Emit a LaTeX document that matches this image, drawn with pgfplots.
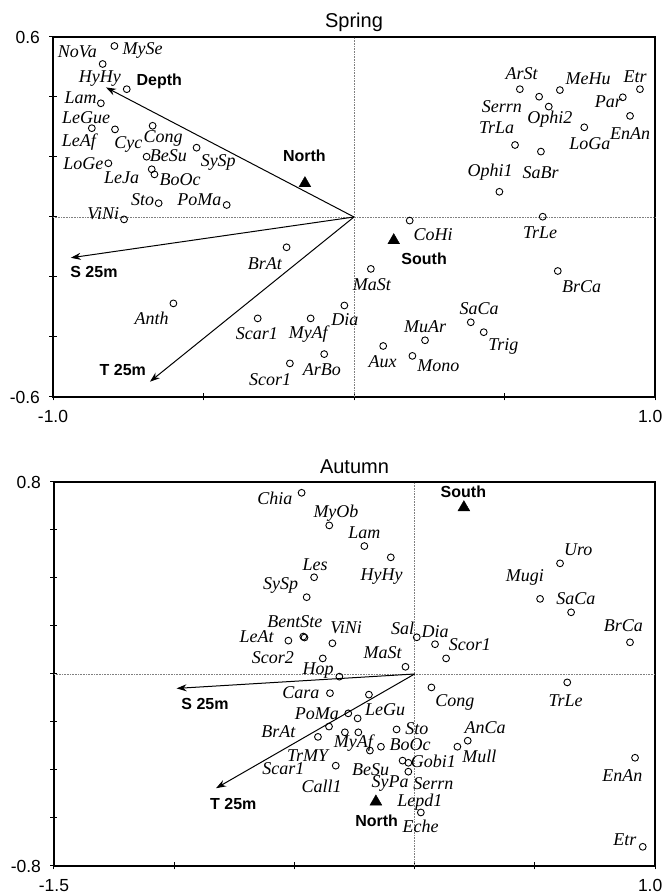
\documentclass[border=0pt]{standalone}
\usepackage{fontspec}
\setmainfont{Liberation Serif}
\setsansfont{Liberation Sans}
\usepackage{pgfplots}
\pgfplotsset{compat=1.18}
\usetikzlibrary{arrows.meta}

\tikzset{
  lab/.style={font=\itshape\fontsize{18}{18}\selectfont, inner sep=0pt, anchor=center},
  blab/.style={font=\sffamily\bfseries\fontsize{16}{16}\selectfont, inner sep=0pt, anchor=center},
}
\pgfplotsset{
  biplot/.style={
    scale only axis,
    anchor=south west,
    clip=false,
    tick pos=left,
    tick align=center,
    major tick length=7pt,
    axis line style={line width=1.1pt},
    every tick/.style={black, line width=1pt},
    ticklabel style={font=\sffamily\fontsize{17.5}{17.5}\selectfont},
    xticklabel style={yshift=-6pt},
    yticklabel style={xshift=-6pt},
    title style={font=\sffamily\fontsize{20}{20}\selectfont, at={(0.5,1)}, anchor=center, yshift=9pt},
  },
  zero/.style={gray, densely dotted, line width=0.6pt},
  vec/.style={black, line width=1pt, -{Stealth[length=10pt,width=7pt]}},
  pts/.style={only marks, mark=o, mark size=3.4pt, mark options={line width=0.9pt}, black},
  tri/.style={only marks, mark=triangle*, mark size=6.8pt, black},
}

\begin{document}
\begin{tikzpicture}[x=1pt,y=1pt]
\useasboundingbox (0,0) rectangle (665,894);

% ---------------- Spring ----------------
\begin{axis}[biplot,
  at={(53pt,497pt)}, width=602pt, height=360pt,
  xmin=-1, xmax=1, ymin=-0.6, ymax=0.6,
  xtick={-1,-0.5,0,0.5,1}, xticklabels={-1.0,{},{},{},\makebox[34pt][l]{1.0}},
  ytick={-0.6,-0.4,-0.2,0,0.2,0.4,0.6}, yticklabels={-0.6,{},{},{},{},{},0.6},
  title={Spring}]
\addplot[zero] coordinates {(-1,0) (1,0)};
\addplot[zero] coordinates {(0,-0.6) (0,0.6)};
\addplot[vec] coordinates {(0,0) (-0.824,0.432)};
\addplot[vec] coordinates {(0,0) (-0.941,-0.136)};
\addplot[vec] coordinates {(0,0) (-0.678,-0.549)};
\addplot[pts] table {
x y
-0.796 0.570
-0.835 0.510
-0.755 0.426
-0.841 0.379
-0.871 0.296
-0.794 0.292
-0.669 0.304
-0.523 0.231
-0.689 0.201
-0.816 0.179
-0.672 0.159
-0.663 0.142
-0.649 0.046
-0.423 0.040
-0.764 -0.008
-0.224 -0.101
-0.600 -0.288
-0.320 -0.338
-0.144 -0.338
-0.099 -0.457
-0.213 -0.488
-0.032 -0.295
0.056 -0.173
0.185 -0.012
0.097 -0.430
0.194 -0.463
0.236 -0.411
0.388 -0.351
0.431 -0.384
0.627 0.001
0.677 -0.180
0.483 0.084
0.551 0.426
0.615 0.401
0.647 0.368
0.684 0.423
0.893 0.399
0.950 0.426
0.917 0.337
0.765 0.299
0.535 0.240
0.621 0.218
};
\addplot[tri] coordinates {(-0.163,0.112) (0.132,-0.078)};
% species labels
\node[lab] at (axis cs:-0.919,0.551) {NoVa};
\node[lab] at (axis cs:-0.702,0.554) {MySe};
\node[lab] at (axis cs:-0.844,0.462) {HyHy};
\node[lab] at (axis cs:-0.908,0.398) {Lam};
\node[lab] at (axis cs:-0.890,0.332) {LeGue};
\node[lab] at (axis cs:-0.914,0.251) {LeAf};
\node[lab] at (axis cs:-0.750,0.243) {Cyc};
\node[lab] at (axis cs:-0.634,0.262) {Cong};
\node[lab] at (axis cs:-0.617,0.204) {BeSu};
\node[lab] at (axis cs:-0.451,0.181) {SySp};
\node[lab] at (axis cs:-0.899,0.179) {LoGe};
\node[lab] at (axis cs:-0.772,0.131) {LeJa};
\node[lab] at (axis cs:-0.578,0.126) {BoOc};
\node[lab] at (axis cs:-0.702,0.059) {Sto};
\node[lab] at (axis cs:-0.514,0.059) {PoMa};
\node[lab] at (axis cs:-0.833,0.010) {ViNi};
\node[lab] at (axis cs:-0.296,-0.154) {BrAt};
\node[lab] at (axis cs:-0.672,-0.338) {Anth};
\node[lab] at (axis cs:-0.323,-0.390) {Scar1};
\node[lab] at (axis cs:-0.152,-0.390) {MyAf};
\node[lab] at (axis cs:-0.279,-0.543) {Scor1};
\node[lab] at (axis cs:-0.107,-0.510) {ArBo};
\node[lab] at (axis cs:-0.030,-0.343) {Dia};
\node[lab] at (axis cs:0.263,-0.060) {CoHi};
\node[lab] at (axis cs:0.059,-0.227) {MaSt};
\node[lab] at (axis cs:0.618,-0.054) {TrLe};
\node[lab] at (axis cs:0.756,-0.232) {BrCa};
\node[lab] at (axis cs:0.416,-0.304) {SaCa};
\node[lab] at (axis cs:0.236,-0.366) {MuAr};
\node[lab] at (axis cs:0.496,-0.432) {Trig};
\node[lab] at (axis cs:0.095,-0.482) {Aux};
\node[lab] at (axis cs:0.280,-0.497) {Mono};
\node[lab] at (axis cs:0.557,0.477) {ArSt};
\node[lab] at (axis cs:0.778,0.462) {MeHu};
\node[lab] at (axis cs:0.934,0.466) {Etr};
\node[lab] at (axis cs:0.491,0.368) {Serrn};
\node[lab] at (axis cs:0.845,0.384) {Par};
\node[lab] at (axis cs:0.651,0.326) {Ophi2};
\node[lab] at (axis cs:0.474,0.296) {TrLa};
\node[lab] at (axis cs:0.917,0.279) {EnAn};
\node[lab] at (axis cs:0.784,0.243) {LoGa};
\node[lab] at (axis cs:0.452,0.148) {Ophi1};
\node[lab] at (axis cs:0.620,0.148) {SaBr};
% vector / factor labels
\node[blab] at (axis cs:-0.647,0.451) {Depth};
\node[blab] at (axis cs:-0.864,-0.182) {S 25m};
\node[blab] at (axis cs:-0.768,-0.510) {T 25m};
\node[blab] at (axis cs:-0.165,0.204) {North};
\node[blab] at (axis cs:0.233,-0.138) {South};
\end{axis}

% ---------------- Autumn ----------------
\begin{axis}[biplot,
  at={(54pt,28pt)}, width=601pt, height=384pt,
  xmin=-1.5, xmax=1, ymin=-0.8, ymax=0.8,
  xtick={-1.5,-1,-0.5,0,0.5,1}, xticklabels={-1.5,{},{},{},{},\makebox[34pt][l]{1.0}},
  ytick={-0.8,-0.6,-0.4,-0.2,0,0.2,0.4,0.6,0.8}, yticklabels={-0.8,{},{},{},{},{},{},{},0.8},
  title={Autumn}]
\addplot[zero] coordinates {(-1.5,0) (1,0)};
\addplot[zero] coordinates {(0,-0.8) (0,0.8)};
\addplot[vec] coordinates {(0,0) (-0.990,-0.060)};
\addplot[vec] coordinates {(0,0) (-0.826,-0.476)};
\addplot[pts] table {
x y
-0.470 0.755
-0.355 0.619
-0.209 0.533
-0.099 0.486
-0.418 0.403
-0.449 0.320
-0.463 0.156
-0.458 0.152
-0.525 0.139
-0.342 0.128
-0.382 0.065
-0.313 -0.011
-0.038 0.030
0.009 0.153
0.085 0.124
0.131 0.065
0.605 0.461
0.522 0.313
0.651 0.257
0.896 0.132
-0.352 -0.080
-0.190 -0.086
0.070 -0.056
0.635 -0.035
-0.276 -0.164
-0.237 -0.185
-0.356 -0.219
-0.402 -0.262
-0.290 -0.243
-0.234 -0.243
-0.075 -0.231
-0.186 -0.319
-0.140 -0.303
-0.328 -0.382
-0.050 -0.361
-0.026 -0.370
-0.026 -0.407
0.026 -0.577
0.221 -0.278
0.178 -0.303
0.917 -0.349
0.949 -0.720
};
\addplot[tri] coordinates {(0.205,0.694) (-0.161,-0.532)};
\node[lab] at (axis cs:-0.581,0.732) {Chia};
\node[lab] at (axis cs:-0.327,0.671) {MyOb};
\node[lab] at (axis cs:-0.209,0.589) {Lam};
\node[lab] at (axis cs:-0.137,0.408) {HyHy};
\node[lab] at (axis cs:-0.414,0.454) {Les};
\node[lab] at (axis cs:-0.557,0.367) {SySp};
\node[lab] at (axis cs:-0.498,0.218) {BentSte};
\node[lab] at (axis cs:-0.657,0.155) {LeAt};
\node[lab] at (axis cs:-0.285,0.193) {ViNi};
\node[lab] at (axis cs:-0.590,0.068) {Scor2};
\node[lab] at (axis cs:-0.401,0.014) {Hop};
\node[lab] at (axis cs:-0.133,0.089) {MaSt};
\node[lab] at (axis cs:-0.050,0.190) {Sal};
\node[lab] at (axis cs:0.085,0.176) {Dia};
\node[lab] at (axis cs:0.230,0.124) {Scor1};
\node[lab] at (axis cs:0.681,0.517) {Uro};
\node[lab] at (axis cs:0.459,0.401) {Mugi};
\node[lab] at (axis cs:0.671,0.315) {SaCa};
\node[lab] at (axis cs:0.868,0.200) {BrCa};
\node[lab] at (axis cs:-0.473,-0.078) {Cara};
\node[lab] at (axis cs:-0.123,-0.150) {LeGu};
\node[lab] at (axis cs:-0.407,-0.167) {PoMa};
\node[lab] at (axis cs:-0.567,-0.240) {BrAt};
\node[lab] at (axis cs:-0.445,-0.338) {TrMY};
\node[lab] at (axis cs:-0.546,-0.393) {Scar1};
\node[lab] at (axis cs:-0.387,-0.467) {Call1};
\node[lab] at (axis cs:-0.255,-0.286) {MyAf};
\node[lab] at (axis cs:-0.019,-0.296) {BoOc};
\node[lab] at (axis cs:0.009,-0.226) {Sto};
\node[lab] at (axis cs:0.078,-0.365) {Gobi1};
\node[lab] at (axis cs:-0.183,-0.400) {BeSu};
\node[lab] at (axis cs:-0.102,-0.458) {SyPa};
\node[lab] at (axis cs:0.078,-0.455) {Serrn};
\node[lab] at (axis cs:0.022,-0.536) {Lepd1};
\node[lab] at (axis cs:0.025,-0.636) {Eche};
\node[lab] at (axis cs:0.168,-0.119) {Cong};
\node[lab] at (axis cs:0.628,-0.111) {TrLe};
\node[lab] at (axis cs:0.293,-0.224) {AnCa};
\node[lab] at (axis cs:0.269,-0.345) {Mull};
\node[lab] at (axis cs:0.864,-0.424) {EnAn};
\node[lab] at (axis cs:0.875,-0.689) {Etr};
\node[blab] at (axis cs:-0.872,-0.125) {S 25m};
\node[blab] at (axis cs:-0.754,-0.542) {T 25m};
\node[blab] at (axis cs:0.203,0.760) {South};
\node[blab] at (axis cs:-0.158,-0.611) {North};
\end{axis}
\end{tikzpicture}
\end{document}
